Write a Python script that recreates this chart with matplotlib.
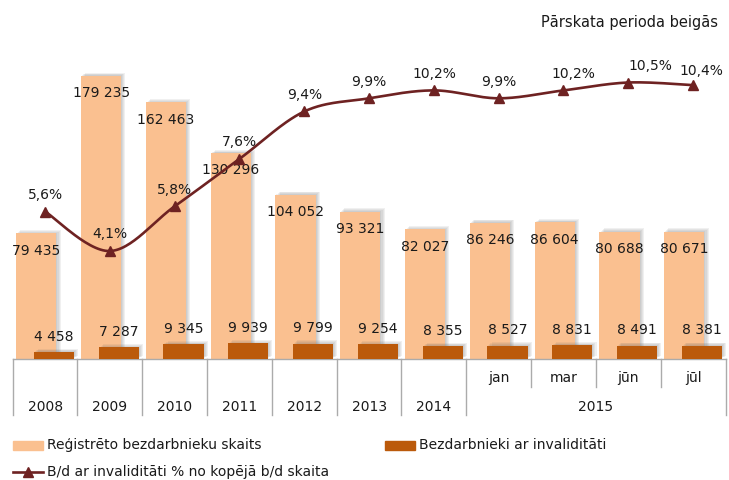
import numpy as np
import matplotlib
matplotlib.use("Agg")
import matplotlib.pyplot as plt
import matplotlib.patheffects as pe
from matplotlib.patches import Rectangle
from matplotlib.lines import Line2D
from matplotlib.transforms import blended_transform_factory

# data
years = ['2008', '2009', '2010', '2011', '2012', '2013', '2014', '2015']
months = ['jan', 'mar', 'jūn', 'jūl']
registered = [79435, 179235, 162463, 130296, 104052, 93321, 82027,
              86246, 86604, 80688, 80671]
disabled = [4458, 7287, 9345, 9939, 9799, 9254, 8355,
            8527, 8831, 8491, 8381]
share = [5.6, 4.1, 5.8, 7.6, 9.4, 9.9, 10.2, 9.9, 10.2, 10.5, 10.4]

c_light = '#FAC090'
c_dark = '#BB5A0B'
c_line = '#6E2222'
c_sep = '#ABABAB'
c_txt = '#1A1A1A'

plt.rcParams['font.family'] = 'DejaVu Sans'
plt.rcParams['font.size'] = 10

fig = plt.figure(figsize=(7.29, 4.8), dpi=100)
ax = fig.add_axes([0.0174, 0.2521, 0.9778, 0.6583])
ax2 = ax.twinx()

n = len(registered)
x = np.arange(n)
w = 0.62
off = 0.135
# soft shadow: a few stacked offsets with low alpha
shadow = [pe.SimplePatchShadow(offset=(k * 0.75, k * 0.55), shadow_rgbFace='#606060', alpha=0.09)
          for k in (4, 3, 2, 1)] + [pe.Normal()]

b1 = ax.bar(x - off, registered, w, color=c_light, zorder=2)
b2 = ax.bar(x + off, disabled, w, color=c_dark, zorder=3)
for b in list(b1) + list(b2):
    b.set_path_effects(shadow)

fmt = lambda v: '{:,}'.format(v).replace(',', ' ')
for xi, v in zip(x, registered):
    ax.annotate(fmt(v), (xi - off, v), xytext=(0, -12.5), textcoords='offset points',
                ha='center', va='center', color=c_txt, zorder=5)
for xi, v in zip(x, disabled):
    ax.annotate(fmt(v), (xi + off, v), xytext=(0, 11), textcoords='offset points',
                ha='center', va='center', color=c_txt, zorder=5)

ax.set_xlim(-0.5, n - 0.5)
ax.set_ylim(0, 200000)
ax2.set_ylim(0, 12)
for a in (ax, ax2):
    a.set_xticks([])
    a.set_yticks([])
    for s in a.spines.values():
        s.set_visible(False)
    a.patch.set_visible(False)

# smooth line (catmull-rom through the points)
pts = np.column_stack([x, share]).astype(float)
ext = np.vstack([pts[0], pts, pts[-1]])
curve = []
tt = np.linspace(0, 1, 30)
for i in range(n - 1):
    p0, p1, p2, p3 = ext[i], ext[i + 1], ext[i + 2], ext[i + 3]
    c1 = p1 + (p2 - p0) / 6
    c2 = p2 - (p3 - p1) / 6
    seg = ((1 - tt) ** 3)[:, None] * p1 + (3 * (1 - tt) ** 2 * tt)[:, None] * c1 \
        + (3 * (1 - tt) * tt ** 2)[:, None] * c2 + (tt ** 3)[:, None] * p2
    curve.append(seg)
curve = np.vstack(curve)
ax2.plot(curve[:, 0], curve[:, 1], color=c_line, lw=1.9, zorder=4)
ax2.plot(x, share, linestyle='none', marker='^', ms=6.5, color=c_line, zorder=5)

lab_dx = [0, 0, 0, 0, 0, 0, 0, 0, 7, 16, 6]
lab_dy = [12, 12, 12, 12, 12, 12, 12, 12, 12, 12, 10]
for xi, v, dx, dy in zip(x, share, lab_dx, lab_dy):
    ax2.annotate('{:.1f}%'.format(v).replace('.', ','), (xi, v), xytext=(dx, dy),
                 textcoords='offset points', ha='center', va='center', color=c_txt, zorder=6)

# category axis
tr = blended_transform_factory(ax.transData, ax.transAxes)
ax.plot([-0.5, n - 0.5], [0, 0], transform=tr, color=c_sep, lw=1, clip_on=False)
full = [-0.5, 0.5, 1.5, 2.5, 3.5, 4.5, 5.5, 6.5, 10.5]
for e in full:
    ax.plot([e, e], [0, -0.177], transform=tr, color=c_sep, lw=1, clip_on=False)
for e in [7.5, 8.5, 9.5]:
    ax.plot([e, e], [0, -0.089], transform=tr, color=c_sep, lw=1, clip_on=False)
for i, m in enumerate(months):
    ax.text(7 + i, -0.06, m, transform=tr, ha='center', va='center', color=c_txt)
for i, yr in enumerate(years[:-1]):
    ax.text(i, -0.152, yr, transform=tr, ha='center', va='center', color=c_txt)
ax.text(8.5, -0.152, years[-1], transform=tr, ha='center', va='center', color=c_txt)

fig.text(0.985, 0.954, 'Pārskata perioda beigās', ha='right', va='center',
         fontsize=10.5, color=c_txt)

# legend
ft = fig.transFigure
fig.add_artist(Rectangle((0.0178, 0.0635), 0.041, 0.0185, transform=ft, color=c_light))
fig.text(0.0645, 0.0729, 'Reģistrēto bezdarbnieku skaits', va='center', color=c_txt)
fig.add_artist(Rectangle((0.528, 0.0635), 0.041, 0.0185, transform=ft, color=c_dark))
fig.text(0.575, 0.0729, 'Bezdarbnieki ar invaliditāti', va='center', color=c_txt)
fig.add_artist(Line2D([0.0178, 0.059], [0.0167, 0.0167], transform=ft, color=c_line, lw=1.9))
fig.add_artist(Line2D([0.0384], [0.0167], transform=ft, color=c_line, marker='^', ms=6.5))
fig.text(0.0645, 0.0167, 'B/d ar invaliditāti % no kopējā b/d skaita', va='center', color=c_txt)

fig.savefig('out.png', dpi=100)
